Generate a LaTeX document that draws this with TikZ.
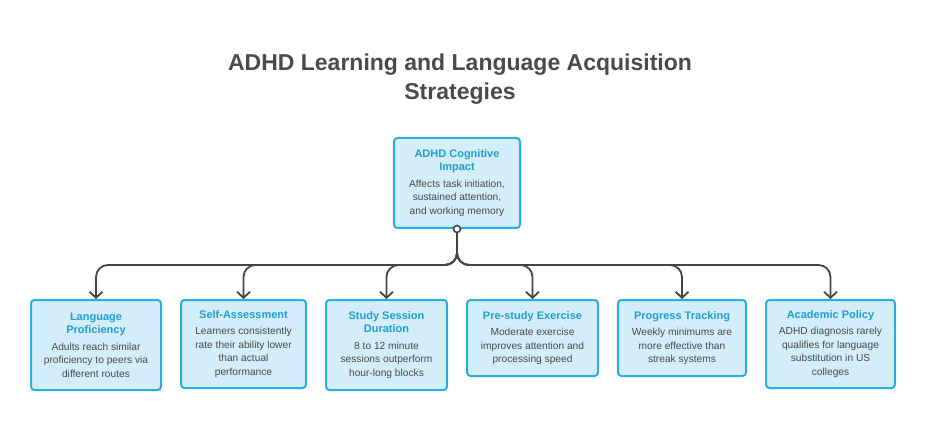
\documentclass[tikz,border=0pt]{standalone}
\usepackage{fontspec}
\setmainfont{Liberation Sans}
\usetikzlibrary{arrows.meta}
\definecolor{bfill}{HTML}{D3EEF8}
\definecolor{bdraw}{HTML}{2AAEE0}
\definecolor{btitle}{HTML}{1E9ED6}
\definecolor{btext}{HTML}{4A4A4A}
\definecolor{conn}{HTML}{444444}
\newcommand{\hdx}{\fontsize{11}{14}\selectfont\bfseries\color{btitle}}
\newcommand{\bdx}{\fontsize{10.2}{13.5}\selectfont\mdseries\color{btext}}
\tikzset{
 box/.style={draw=bdraw,fill=bfill,line width=2pt,rounded corners=3.5pt,align=center,inner sep=0pt,text=btext,font=\fontsize{10.2}{13.5}\selectfont},
 con/.style={draw=conn,line width=1.8pt,rounded corners=12pt,-{Straight Barb[length=6pt,width=13pt,line width=1.8pt]}}
}
\begin{document}
\begin{tikzpicture}[x=1pt,y=-1pt]
\useasboundingbox (0,0) rectangle (925,446);
\node[font=\fontsize{23}{29}\selectfont\bfseries,text=btext,align=center] (title) at (460,79) {ADHD Learning and Language Acquisition\\Strategies};
\node[box,minimum width=126pt,minimum height=90pt] (root) at (457,183) {\hdx ADHD Cognitive\\\hdx Impact\\[3pt]\bdx Affects task initiation,\\\bdx sustained attention,\\\bdx and working memory};
\node[box,minimum width=130pt,minimum height=90pt] (a) at (96,345) {\hdx Language\\\hdx Proficiency\\[3pt]\bdx Adults reach similar\\\bdx proficiency to peers via\\\bdx different routes};
\node[box,minimum width=125pt,minimum height=88pt] (b) at (243.5,344) {\hdx Self-Assessment\\[3pt]\bdx Learners consistently\\\bdx rate their ability lower\\\bdx than actual\\\bdx performance};
\node[box,minimum width=121pt,minimum height=90pt] (c) at (386.5,345) {\hdx Study Session\\\hdx Duration\\[3pt]\bdx 8 to 12 minute\\\bdx sessions outperform\\\bdx hour-long blocks};
\node[box,minimum width=131pt,minimum height=76pt] (d) at (532.5,338) {\hdx Pre-study Exercise\\[3pt]\bdx Moderate exercise\\\bdx improves attention and\\\bdx processing speed};
\node[box,minimum width=128pt,minimum height=76pt] (e) at (682,338) {\hdx Progress Tracking\\[3pt]\bdx Weekly minimums are\\\bdx more effective than\\\bdx streak systems};
\node[box,minimum width=129pt,minimum height=88pt] (f) at (830.5,344) {\hdx Academic Policy\\[3pt]\bdx ADHD diagnosis rarely\\\bdx qualifies for language\\\bdx substitution in US\\\bdx colleges};
\coordinate (bus) at (457,265);
\foreach \t in {a,b,c,d,e,f}{
 \path[con] (root.south) -- (bus) -| (\t.north);
}
\draw[conn,line width=1.6pt,fill=white] (root.south) circle (3.5pt);
\end{tikzpicture}
\end{document}
